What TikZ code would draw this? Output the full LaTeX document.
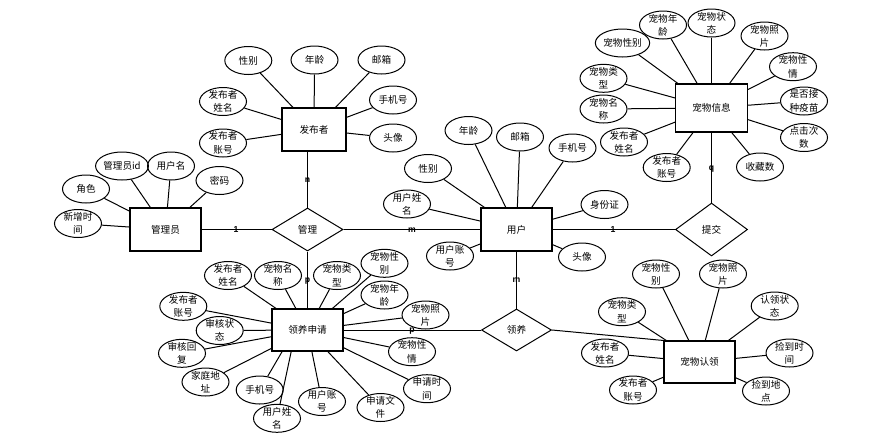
\documentclass[tikz,border=0pt]{standalone}
\usepackage{fontspec}
\newfontfamily\cjk{Noto Sans CJK SC}
\newfontfamily\tagfont{Liberation Sans}
\usetikzlibrary{shapes.geometric}

\begin{document}
\begin{tikzpicture}[x=0.75pt,y=-0.75pt,
  txt/.style={font=\cjk\fontsize{7.2pt}{10pt}\selectfont},
  entity/.style={txt, draw, rectangle, line width=0.8pt, inner sep=0pt,
    minimum width=53.25pt, minimum height=32.25pt},
  rel/.style={txt, draw, diamond, line width=0.75pt, inner sep=0pt, aspect=1.6,
    minimum width=53.25pt, minimum height=32.25pt},
  attr/.style={txt, draw, ellipse, line width=0.75pt, align=center,
    inner xsep=0pt, inner ysep=-2.5pt, minimum width=35.25pt, minimum height=21pt},
  conn/.style={line width=0.75pt},
  card/.style={font=\tagfont\bfseries\fontsize{6.5pt}{7pt}\selectfont, inner sep=0pt}]

\useasboundingbox (0,0) rectangle (884,444);

% entities
\node[entity] (admin) at (165.5,229.5) {管理员};
\node[entity, minimum width=48pt] (pub) at (314,129.5) {发布者};
\node[entity] (user) at (516.5,229.5) {用户};
\node[entity, minimum width=54pt, minimum height=36pt] (pet) at (711.5,108) {宠物信息};
\node[entity, minimum height=31.5pt] (apply) at (307.5,330) {领养申请};
\node[entity, minimum height=31.5pt] (claim) at (699.5,362) {宠物认领};

% relationships
\node[rel] (manage) at (307.5,229.5) {管理};
\node[rel, minimum width=54pt, minimum height=39.75pt] (submit) at (711.5,229.5) {提交};
\node[rel, minimum width=52.5pt, minimum height=31.5pt] (adopt) at (516.5,330) {领养};

% relationship links
\draw[conn] (admin) -- (manage);
\draw[conn] (manage) -- (user);
\draw[conn] (manage |- pub.south) -- (manage.north);
\draw[conn] (manage) -- (apply);
\draw[conn] (user) -- (submit);
\draw[conn] (pet) -- (submit);
\draw[conn] (user) -- (adopt);
\draw[conn] (apply) -- (adopt);
\draw[conn] (adopt.east) -- (claim.north west);

% cardinalities
\node[card] (k1) at (236,230) {1};
\node[card] (k2) at (412,230) {m};
\node[card] (k3) at (307.5,180) {n};
\node[card] (k4) at (307.5,281) {p};
\node[card] (k5) at (613,230) {1};
\node[card] (k6) at (711.5,169) {q};
\node[card] (k7) at (516.5,280) {m};
\node[card] (k8) at (412,331) {p};

% administrator attributes
\node[attr] (a_role) at (86,189) {角色};
\node[attr] (a_id) at (122,166) {管理员id};
\node[attr] (a_uname) at (171,166) {用户名};
\node[attr] (a_pwd) at (219.5,180.5) {密码};
\node[attr] (a_time) at (78,223.5) {新增时\\间};
\foreach \a in {a_role,a_id,a_uname,a_pwd,a_time} \draw[conn] (\a) -- (admin);

% publisher attributes
\node[attr] (p_sex) at (248.3,60.5) {性别};
\node[attr] (p_age) at (314.5,60) {年龄};
\node[attr] (p_mail) at (381.5,60) {邮箱};
\node[attr] (p_phone) at (393,100) {手机号};
\node[attr] (p_avatar) at (393,138) {头像};
\node[attr] (p_name) at (223,101.5) {发布者\\姓名};
\node[attr] (p_acct) at (223,143) {发布者\\账号};
\foreach \a in {p_sex,p_age,p_mail,p_phone,p_avatar,p_name,p_acct} \draw[conn] (\a) -- (pub);

% user attributes
\node[attr] (u_age) at (468.5,130.5) {年龄};
\node[attr] (u_mail) at (520,137) {邮箱};
\node[attr] (u_phone) at (572.5,148) {手机号};
\node[attr] (u_sex) at (428,168.5) {性别};
\node[attr] (u_name) at (407,204) {用户姓\\名};
\node[attr] (u_id) at (604.5,204.5) {身份证};
\node[attr] (u_acct) at (450,256) {用户账\\号};
\node[attr] (u_avatar) at (582,257) {头像};
\foreach \a in {u_age,u_mail,u_phone,u_sex,u_name,u_id,u_acct,u_avatar} \draw[conn] (\a) -- (user);

% pet information attributes
\node[attr] (i_age) at (663,25) {宠物年\\龄};
\node[attr] (i_state) at (711.5,23) {宠物状\\态};
\node[attr] (i_photo) at (764.5,36) {宠物照\\片};
\node[attr] (i_sex) at (622.5,43) {宠物性别};
\node[attr] (i_char) at (793,66.7) {宠物性\\情};
\node[attr] (i_type) at (603.5,78.3) {宠物类\\型};
\node[attr] (i_vacc) at (804,101) {是否接\\种疫苗};
\node[attr] (i_name) at (603.5,109) {宠物名\\称};
\node[attr] (i_click) at (804,137.5) {点击次\\数};
\node[attr] (i_pname) at (624,142) {发布者\\姓名};
\node[attr] (i_pacct) at (666.7,167.5) {发布者\\账号};
\node[attr] (i_fav) at (760,167) {收藏数};
\foreach \a in {i_age,i_state,i_photo,i_sex,i_char,i_type,i_vacc,i_name,i_click,i_pname,i_pacct,i_fav} \draw[conn] (\a) -- (pet);

% adoption application attributes
\node[attr] (r_pname) at (228,275.5) {发布者\\姓名};
\node[attr] (r_petname) at (278,275.5) {宠物名\\称};
\node[attr] (r_type) at (337,275.5) {宠物类\\型};
\node[attr] (r_sex) at (384.5,263.3) {宠物性\\别};
\node[attr] (r_age) at (384.5,295) {宠物年\\龄};
\node[attr] (r_photo) at (425.5,315) {宠物照\\片};
\node[attr] (r_char) at (412,351.7) {宠物性\\情};
\node[attr] (r_time) at (427,388.7) {申请时\\间};
\node[attr] (r_file) at (380.5,407.5) {申请文\\件};
\node[attr] (r_uacct) at (322,401.5) {用户账\\号};
\node[attr] (r_uname) at (277,418.3) {用户姓\\名};
\node[attr] (r_phone) at (259.7,390) {手机号};
\node[attr] (r_addr) at (205.5,382) {家庭地\\址};
\node[attr] (r_reply) at (182,353.3) {审核回\\复};
\node[attr] (r_state) at (219.7,330.5) {审核状\\态};
\node[attr] (r_pacct) at (183.3,306.3) {发布者\\账号};
\foreach \a in {r_pname,r_petname,r_type,r_sex,r_age,r_photo,r_char,r_time,r_file,r_uacct,r_addr,r_reply,r_state,r_pacct} \draw[conn] (\a) -- (apply);
\draw[conn] (r_phone) -- ([xshift=8pt]apply.south west);
\draw[conn] (r_uname) -- ([xshift=14.8pt]apply.south west);

% pet claim attributes
\node[attr] (c_sex) at (656,274) {宠物性\\别};
\node[attr] (c_photo) at (723,274) {宠物照\\片};
\node[attr] (c_state) at (774.7,306) {认领状\\态};
\node[attr] (c_type) at (622,311.7) {宠物类\\型};
\node[attr] (c_pname) at (605,353) {发布者\\姓名};
\node[attr] (c_time) at (789.5,353) {捡到时\\间};
\node[attr] (c_pacct) at (633,390) {发布者\\账号};
\node[attr] (c_place) at (766,391) {捡到地\\点};
\foreach \a in {c_sex,c_photo,c_state,c_type,c_pname,c_time,c_pacct,c_place} \draw[conn] (\a) -- (claim);

\end{tikzpicture}
\end{document}
